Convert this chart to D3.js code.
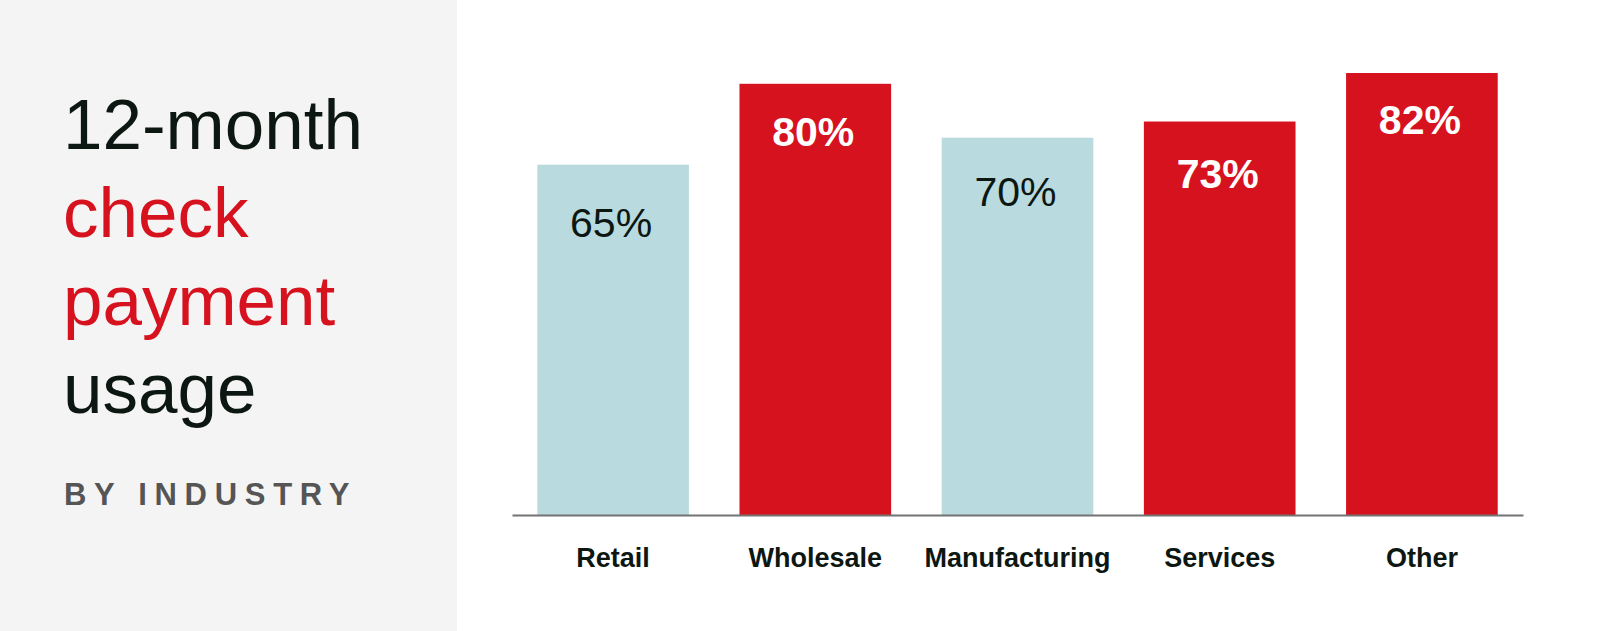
<!DOCTYPE html>
<html lang="en">
<head>
  <meta charset="UTF-8" />
  <title>12-month check payment usage by industry</title>
  <script src="https://d3js.org/d3.v7.min.js"></script>
  <style>
    body { margin: 0; background: #fff; font-family: "Liberation Sans", Arial, Helvetica, sans-serif; }
    svg { display: block; }
    .title { font-size: 71px; font-weight: 400; }
    .sub { font-size: 31px; font-weight: 700; fill: #555; letter-spacing: 7.7px; }
    .cat { font-size: 27px; font-weight: 700; fill: #0d1712; }
    .val { font-size: 41px; }
  </style>
</head>
<body>
  <svg width="1600" height="631"></svg>
  <script>
    // data
    const categories = ["Retail", "Wholesale", "Manufacturing", "Services", "Other"];
    const values = [65, 80, 70, 73, 82];
    const highlighted = ["Wholesale", "Services", "Other"];

    const titleLines = [
      { text: "12-month", color: "#0d1712" },
      { text: "check", color: "#d7121f" },
      { text: "payment", color: "#d7121f" },
      { text: "usage", color: "#0d1712" }
    ];
    const subtitle = "BY INDUSTRY";

    const red = "#d7121f", blue = "#b9dadf";

    const svg = d3.select("svg");

    // left panel
    svg.append("rect").attr("x", 0).attr("y", 0).attr("width", 457).attr("height", 631).attr("fill", "#f4f4f4");

    svg.selectAll(".title")
      .data(titleLines)
      .join("text")
      .attr("class", "title")
      .attr("x", 63)
      .attr("y", (d, i) => 149 + i * 88)
      .attr("fill", d => d.color)
      .attr("font-size", (d, i) => i === 0 ? 73 : null)
      .text(d => d.text);

    svg.append("text")
      .attr("class", "sub")
      .attr("x", 64)
      .attr("y", 505)
      .text(subtitle);

    // chart
    const baseY = 515;
    const x = d3.scaleBand()
      .domain(categories)
      .range([512, 1523])
      .paddingInner(0.25)
      .paddingOuter(0.125);

    const y = d3.scaleLinear()
      .domain([0, 100])
      .range([baseY, baseY - 539]);

    const rows = categories.map((c, i) => ({ cat: c, value: values[i], hot: highlighted.includes(c) }));
    const vmax = d3.max(values);
    const labelY = v => y(v) + 61 + 0.12 * (y(v) - y(vmax));

    const g = svg.append("g");

    g.selectAll(".bar")
      .data(rows)
      .join("rect")
      .attr("class", "bar")
      .attr("x", d => x(d.cat))
      .attr("width", x.bandwidth())
      .attr("y", d => y(d.value))
      .attr("height", d => y(0) - y(d.value))
      .attr("fill", d => d.hot ? red : blue);

    g.selectAll(".val")
      .data(rows)
      .join("text")
      .attr("class", "val")
      .attr("x", d => x(d.cat) + x.bandwidth() / 2 - 2)
      .attr("y", d => labelY(d.value))
      .attr("text-anchor", "middle")
      .attr("fill", d => d.hot ? "#fff" : "#0d1712")
      .attr("font-weight", d => d.hot ? 700 : 400)
      .text(d => d.value + "%");

    const axis = svg.append("g")
      .attr("transform", `translate(0,${baseY})`)
      .call(d3.axisBottom(x).tickSize(0).tickPadding(0));

    axis.select(".domain").attr("stroke", "#737373").attr("stroke-width", 2);
    axis.selectAll(".tick text")
      .attr("class", "cat")
      .attr("dy", 0)
      .attr("y", 52)
      .style("font-family", null)
      .style("font-size", null);
    axis.attr("font-family", null).attr("font-size", null);
  </script>
</body>
</html>
